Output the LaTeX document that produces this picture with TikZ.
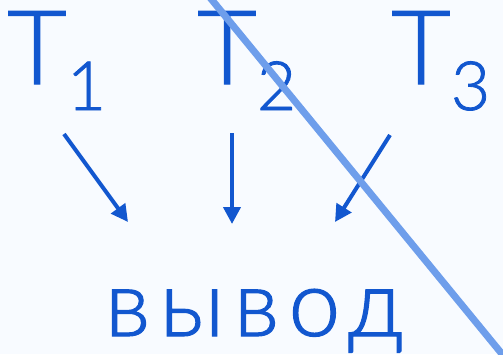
\documentclass[tikz,border=0pt]{standalone}
\usepackage{fontspec}
\setmainfont{Lato Light}[RawFeature={embolden=1.2}]
\newfontfamily\outfont{Lato Light}[LetterSpace=10, RawFeature={embolden=1.2}]
\usepackage{xcolor}
\usetikzlibrary{arrows.meta}
\definecolor{tblue}{HTML}{1257CF}
\definecolor{strike}{HTML}{6E9EEB}
\definecolor{paper}{HTML}{F8FBFF}

\newcommand{\tsub}[1]{{\fontsize{103}{103}\selectfont T}\raisebox{-26pt}{\fontsize{68}{68}\selectfont #1}}

\begin{document}
\begin{tikzpicture}[x=1pt,y=-1pt,
    lbl/.style={anchor=base west, inner sep=0pt, text=tblue},
    arr/.style={draw=tblue, line width=4pt, -{Triangle[length=17pt,width=17pt]}}]

  \useasboundingbox (0,0) rectangle (503,354);
  \fill[paper] (0,0) rectangle (503,354);

  % ---- the three terms on top ----
  \node[lbl] (t1) at (7,84) {\tsub{1}};
  \node[lbl] (t2) at (197,84) {\tsub{2}};
  \node[lbl] (t3) at (391,84) {\tsub{3}};

  % ---- the conclusion below ----
  \node[anchor=base, inner sep=0pt, text=tblue] (out) at (254,336)
    {\fontsize{93}{93}\outfont вывод};

  % ---- arrows from the terms down to the conclusion ----
  \coordinate (s1) at (64,134);  \coordinate (e1) at (128,222);
  \coordinate (s2) at (232,133); \coordinate (e2) at (232,224);
  \coordinate (s3) at (390,135); \coordinate (e3) at (335,222);
  \foreach \i in {1,2,3}
    \draw[arr] (s\i) -- (e\i);

  % ---- the stroke that crosses out T2 and T3 ----
  \begin{scope}
    \clip (0,0) rectangle (503,354);
    \draw[strike, line width=7pt] (203.8,-10) -- (510.2,364);
  \end{scope}
\end{tikzpicture}
\end{document}
